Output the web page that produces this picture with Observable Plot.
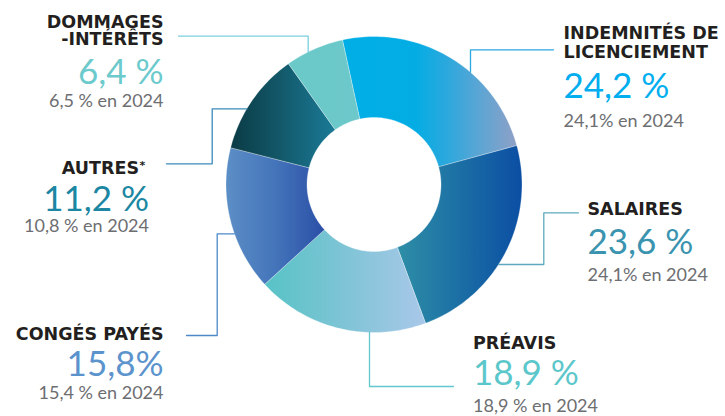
<!DOCTYPE html>
<html><head><meta charset="utf-8">
<script src="https://cdn.jsdelivr.net/npm/d3@7"></script>
<script src="https://cdn.jsdelivr.net/npm/@observablehq/plot@0.6"></script>
<style>
html,body{margin:0;padding:0;background:#fff}
#chart svg{display:block}
</style>
</head><body><div id="chart"></div>
<script>
// ---- data ----
const categories = ["INDEMNITÉS DE LICENCIEMENT", "SALAIRES", "PRÉAVIS", "CONGÉS PAYÉS", "AUTRES", "DOMMAGES -INTÉRÊTS"];
const titleLines = [["INDEMNITÉS DE", "LICENCIEMENT"], ["SALAIRES"], ["PRÉAVIS"], ["CONGÉS PAYÉS"], ["AUTRES"], ["DOMMAGES", "-INTÉRÊTS"]];
const shares2025 = [24.2, 23.6, 18.9, 15.8, 11.2, 6.4];
const shares2024 = [24.1, 24.1, 18.9, 15.4, 10.8, 6.5];
const valueLabels = ["24,2 %", "23,6 %", "18,9 %", "15,8%", "11,2 %", "6,4 %"];
const priorLabels = ["24,1% en 2024", "24,1% en 2024", "18,9 % en 2024", "15,4 % en 2024", "10,8 % en 2024", "6,5 % en 2024"];
const footnoteMark = ["", "", "", "", "*", ""];

// ---- layout & style ----
const W = 725, H = 416;
const cx = 373.5, cy = 184, R = 148, R0 = 67;
const startDeg = -12.3;
const TITLE_FONT = "'DejaVu Sans', sans-serif";
const FONT = "Lato, 'Noto Sans', sans-serif";

const gradients = [
  [[0, "#00AEE6"], [0.42, "#03ADE4"], [0.6, "#2CA8DD"], [0.8, "#5FA5D3"], [1, "#8FA0C6"]],
  [[0, "#2E8EA6"], [0.45, "#1D72A5"], [1, "#0B4EA3"]],
  [[0, "#57C3C6"], [0.5, "#7FC4D6"], [1, "#A9C8E9"]],
  [[0, "#5C8EC6"], [0.5, "#4474BA"], [1, "#2A4FA6"]],
  [[0, "#0B3B45"], [0.5, "#135A6C"], [1, "#1A7A96"]],
  [[0, "#6BC9C8"], [1, "#6CC8CA"]]
];

const layout = [
  {anchor: "start", x: 563, title: [38.5, 57.5], value: 97, prior: 126, vColor: "#00AEEF",
   leader: [[553, 49.3], [470, 49.3]], end: "v", lColor: "#2BA8DF"},
  {anchor: "start", x: 587, title: [214.5], value: 253.3, prior: 280, vColor: "#3A93AF",
   leader: [[578, 212.3], [543.3, 212.3], [543.3, 264]], end: "h", lColor: "#5EA9BE"},
  {anchor: "start", x: 472.5, title: [348.3], value: 384, prior: 411.7, vColor: "#5CC7CB",
   leader: [[453, 386], [369, 386]], end: "v", lColor: "#62C7CF"},
  {anchor: "end", x: 163, title: [339], value: 375.5, prior: 398.5, vColor: "#5B93CD",
   leader: [[186, 335], [216.7, 335], [216.7, 233.3]], end: "h", lColor: "#4D89C9"},
  {anchor: "end", x: 138.5, title: [173.3], value: 210, prior: 231.7, vColor: "#1B87A3", xv: 148.5,
   leader: [[166, 163.3], [211.7, 163.3], [211.7, 108.3]], end: "h", lColor: "#3A8BBA"},
  {anchor: "end", x: 163, title: [27, 44.5], value: 83, prior: 106, vColor: "#6CCACD",
   leader: [[178, 35.7], [307.7, 35.7]], end: "v", lColor: "#7ACFDE"}
];

// ---- slices ----
const arcs = d3.pie().sort(null)
  .startAngle(startDeg * Math.PI / 180)
  .endAngle(startDeg * Math.PI / 180 + 2 * Math.PI)(shares2025);

function slicePolygon(a) {
  const pts = [];
  const n = Math.max(8, Math.ceil((a.endAngle - a.startAngle) / 0.02));
  for (let k = 0; k <= n; k++) {
    const t = a.startAngle + (a.endAngle - a.startAngle) * k / n;
    pts.push({x: cx + R * Math.sin(t), y: cy - R * Math.cos(t)});
  }
  for (let k = n; k >= 0; k--) {
    const t = a.startAngle + (a.endAngle - a.startAngle) * k / n;
    pts.push({x: cx + R0 * Math.sin(t), y: cy - R0 * Math.cos(t)});
  }
  pts.push(pts[0]);
  return pts;
}

// leader lines: last point is found on the outer circle
function leaderPath(L) {
  const pts = L.leader.map(([x, y]) => ({x, y}));
  const last = pts[pts.length - 1];
  if (L.end === "v") {
    const dx = last.x - cx;
    const dy = Math.sqrt(R * R - dx * dx);
    const y = last.y < cy ? cy - dy : cy + dy;
    pts.push({x: last.x, y});
  } else {
    const dy = last.y - cy;
    const dx = Math.sqrt(R * R - dy * dy);
    const x = last.x < cx ? cx - dx : cx + dx;
    pts.push({x, y: last.y});
  }
  return pts;
}

const marks = [];
arcs.forEach((a, i) => {
  marks.push(Plot.line(slicePolygon(a), {x: "x", y: "y", fill: `url(#grad${i})`, stroke: "#ffffff", strokeWidth: 0.5, strokeOpacity: 0.6}));
});
layout.forEach((L) => {
  marks.push(Plot.line(leaderPath(L), {x: "x", y: "y", stroke: L.lColor, strokeWidth: 1.3}));
});

// texts
const titleRows = [], valueRows = [], priorRows = [], noteRows = [];
categories.forEach((c, i) => {
  const L = layout[i];
  titleLines[i].forEach((t, j) => titleRows.push({x: L.x, y: L.title[j], text: t, anchor: L.anchor}));
  if (footnoteMark[i]) noteRows.push({x: L.x + 0.5, y: L.title[0] - 5, text: footnoteMark[i]});
  valueRows.push({x: L.xv ?? L.x, y: L.value, text: valueLabels[i], anchor: L.anchor, color: L.vColor});
  priorRows.push({x: L.xv ?? L.x, y: L.prior, text: priorLabels[i], anchor: L.anchor});
});
for (const anchor of ["start", "end"]) {
  const tr = titleRows.filter(d => d.anchor === anchor);
  marks.push(Plot.text(tr, {x: "x", y: "y", text: "text", textAnchor: anchor, lineAnchor: "bottom",
    fontSize: 17.5, fontWeight: 700, fontFamily: TITLE_FONT, fill: "#231F20"}));
  const vr = valueRows.filter(d => d.anchor === anchor);
  marks.push(Plot.text(vr, {x: "x", y: "y", text: "text", textAnchor: anchor, lineAnchor: "bottom",
    fontSize: 35, fontWeight: 400, fontFamily: FONT, fill: d => d.color}));
  const pr = priorRows.filter(d => d.anchor === anchor);
  marks.push(Plot.text(pr, {x: "x", y: "y", text: "text", textAnchor: anchor, lineAnchor: "bottom",
    fontSize: 18, fontWeight: 400, fontFamily: FONT, fill: "#6D6E71"}));
}
marks.push(Plot.text(noteRows, {x: "x", y: "y", text: "text", textAnchor: "start", lineAnchor: "bottom",
  fontSize: 11, fontWeight: 700, fontFamily: TITLE_FONT, fill: "#231F20"}));

const plot = Plot.plot({
  width: W, height: H,
  margin: 0,
  x: {type: "linear", domain: [0, W], range: [0, W], axis: null},
  y: {type: "linear", domain: [0, H], range: [0, H], axis: null},
  color: {type: "identity"},
  style: {background: "#fff", overflow: "visible"},
  marks
});

// gradient definitions
const ns = "http://www.w3.org/2000/svg";
const defs = document.createElementNS(ns, "defs");
gradients.forEach((stops, i) => {
  const g = document.createElementNS(ns, "linearGradient");
  g.setAttribute("id", `grad${i}`);
  g.setAttribute("x1", "0"); g.setAttribute("x2", "1");
  g.setAttribute("y1", "0"); g.setAttribute("y2", "0");
  stops.forEach(([o, c]) => {
    const s = document.createElementNS(ns, "stop");
    s.setAttribute("offset", o); s.setAttribute("stop-color", c);
    g.appendChild(s);
  });
  defs.appendChild(g);
});
plot.insertBefore(defs, plot.firstChild);
document.getElementById("chart").appendChild(plot);
</script>
</body></html>
